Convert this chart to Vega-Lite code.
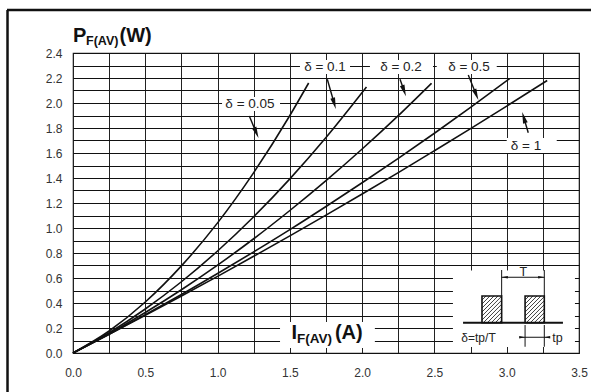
{
  "$schema": "https://vega.github.io/schema/vega-lite/v6.json",
  "width": 506,
  "height": 300,
  "autosize": "none",
  "padding": {"left": 73, "top": 53, "right": 12, "bottom": 39},
  "background": "white",
  "config": {
    "font": "Liberation Sans",
    "view": {"stroke": "#222", "strokeWidth": 1.2}
  },
  "datasets": {
    "curves": [
      {"d": "0.05", "x": 0, "y": 0}, {"d": "0.05", "x": 0.25, "y": 0.176}, {"d": "0.05", "x": 0.5, "y": 0.408}, {"d": "0.05", "x": 0.75, "y": 0.697}, {"d": "0.05", "x": 1.0, "y": 1.041}, {"d": "0.05", "x": 1.25, "y": 1.443}, {"d": "0.05", "x": 1.5, "y": 1.9}, {"d": "0.05", "x": 1.63, "y": 2.16},
      {"d": "0.1", "x": 0, "y": 0}, {"d": "0.1", "x": 0.25, "y": 0.162}, {"d": "0.1", "x": 0.5, "y": 0.352}, {"d": "0.1", "x": 0.75, "y": 0.57}, {"d": "0.1", "x": 1.0, "y": 0.816}, {"d": "0.1", "x": 1.25, "y": 1.09}, {"d": "0.1", "x": 1.5, "y": 1.393}, {"d": "0.1", "x": 1.75, "y": 1.724}, {"d": "0.1", "x": 2.03, "y": 2.128},
      {"d": "0.2", "x": 0, "y": 0}, {"d": "0.2", "x": 0.25, "y": 0.155}, {"d": "0.2", "x": 0.5, "y": 0.324}, {"d": "0.2", "x": 0.75, "y": 0.506}, {"d": "0.2", "x": 1.0, "y": 0.703}, {"d": "0.2", "x": 1.25, "y": 0.914}, {"d": "0.2", "x": 1.5, "y": 1.14}, {"d": "0.2", "x": 1.75, "y": 1.379}, {"d": "0.2", "x": 2.0, "y": 1.632}, {"d": "0.2", "x": 2.25, "y": 1.899}, {"d": "0.2", "x": 2.48, "y": 2.158},
      {"d": "0.5", "x": 0, "y": 0}, {"d": "0.5", "x": 0.25, "y": 0.15}, {"d": "0.5", "x": 0.5, "y": 0.307}, {"d": "0.5", "x": 0.75, "y": 0.468}, {"d": "0.5", "x": 1.0, "y": 0.636}, {"d": "0.5", "x": 1.25, "y": 0.809}, {"d": "0.5", "x": 1.5, "y": 0.987}, {"d": "0.5", "x": 1.75, "y": 1.172}, {"d": "0.5", "x": 2.0, "y": 1.362}, {"d": "0.5", "x": 2.25, "y": 1.557}, {"d": "0.5", "x": 2.5, "y": 1.758}, {"d": "0.5", "x": 2.75, "y": 1.965}, {"d": "0.5", "x": 3.02, "y": 2.195},
      {"d": "1", "x": 0, "y": 0}, {"d": "1", "x": 0.25, "y": 0.149}, {"d": "1", "x": 0.5, "y": 0.301}, {"d": "1", "x": 0.75, "y": 0.456}, {"d": "1", "x": 1.0, "y": 0.613}, {"d": "1", "x": 1.25, "y": 0.774}, {"d": "1", "x": 1.5, "y": 0.937}, {"d": "1", "x": 1.75, "y": 1.103}, {"d": "1", "x": 2.0, "y": 1.272}, {"d": "1", "x": 2.25, "y": 1.443}, {"d": "1", "x": 2.5, "y": 1.618}, {"d": "1", "x": 2.75, "y": 1.795}, {"d": "1", "x": 3.0, "y": 1.975}, {"d": "1", "x": 3.28, "y": 2.18}
    ],
    "boxes": [
      {"x": 1.031, "x2": 1.432, "y": 2.048, "y2": 1.936},
      {"x": 1.57, "x2": 1.916, "y": 2.344, "y2": 2.232},
      {"x": 2.054, "x2": 2.49, "y": 2.344, "y2": 2.232},
      {"x": 2.516, "x2": 2.931, "y": 2.344, "y2": 2.232},
      {"x": 3.0, "x2": 3.346, "y": 1.72, "y2": 1.6},
      {"x": 1.432, "x2": 2.088, "y": 0.248, "y2": 0.04},
      {"x": 2.628, "x2": 3.472, "y": 0.66, "y2": 0.048}
    ],
    "labels": [
      {"t": "δ = 0.05", "x": 1.224, "y": 1.99, "s": 13.5},
      {"t": "δ = 0.1", "x": 1.743, "y": 2.286, "s": 13.5},
      {"t": "δ = 0.2", "x": 2.269, "y": 2.286, "s": 13.5},
      {"t": "δ = 0.5", "x": 2.739, "y": 2.286, "s": 13.5},
      {"t": "δ = 1", "x": 3.133, "y": 1.656, "s": 13.5},
      {"t": "δ=tp/T", "x": 2.805, "y": 0.117, "s": 12},
      {"t": "T", "x": 3.115, "y": 0.652, "s": 12.5},
      {"t": "tp", "x": 3.351, "y": 0.117, "s": 12.5}
    ],
    "bold": [
      {"t": "P", "x": 0, "y": 2.49, "s": 20},
      {"t": "F(AV)", "x": 0.09, "y": 2.462, "s": 12.5},
      {"t": "(W)", "x": 0.322, "y": 2.49, "s": 20},
      {"t": "I", "x": 1.511, "y": 0.112, "s": 20},
      {"t": "F(AV)", "x": 1.549, "y": 0.082, "s": 13.5},
      {"t": "(A)", "x": 1.812, "y": 0.112, "s": 20}
    ],
    "rules": [
      {"x": 1.2195, "y": 1.896, "x2": 1.266, "y2": 1.766, "w": 1.4},
      {"x": 1.759, "y": 2.19, "x2": 1.806, "y2": 2.0, "w": 1.4},
      {"x": 2.262, "y": 2.19, "x2": 2.289, "y2": 2.102, "w": 1.4},
      {"x": 2.734, "y": 2.224, "x2": 2.788, "y2": 2.07, "w": 1.4},
      {"x": 3.149, "y": 1.762, "x2": 3.119, "y2": 1.88, "w": 1.4},
      {"x": 2.698, "y": 0.242, "x2": 3.389, "y2": 0.242, "w": 2},
      {"x": 2.965, "y": 0.664, "x2": 2.965, "y2": 0.456, "w": 1},
      {"x": 3.26, "y": 0.664, "x2": 3.26, "y2": 0.456, "w": 1},
      {"x": 2.965, "y": 0.606, "x2": 3.26, "y2": 0.606, "w": 1},
      {"x": 3.127, "y": 0.224, "x2": 3.127, "y2": 0.05, "w": 1},
      {"x": 3.26, "y": 0.224, "x2": 3.26, "y2": 0.05, "w": 1},
      {"x": 3.09, "y": 0.126, "x2": 3.3, "y2": 0.126, "w": 1},
      {"x": -0.4565, "y": 2.744, "x2": 3.75, "y2": 2.744, "w": 2.5},
      {"x": -0.453, "y": 2.744, "x2": -0.453, "y2": -0.4, "w": 2.5},
      {"x": 2.829, "y": 0.424, "x2": 2.857, "y2": 0.456, "w": 0.8},
      {"x": 2.829, "y": 0.392, "x2": 2.884, "y2": 0.456, "w": 0.8},
      {"x": 2.829, "y": 0.36, "x2": 2.912, "y2": 0.456, "w": 0.8},
      {"x": 2.829, "y": 0.328, "x2": 2.94, "y2": 0.456, "w": 0.8},
      {"x": 2.829, "y": 0.296, "x2": 2.965, "y2": 0.454, "w": 0.8},
      {"x": 2.829, "y": 0.264, "x2": 2.965, "y2": 0.422, "w": 0.8},
      {"x": 2.838, "y": 0.242, "x2": 2.965, "y2": 0.39, "w": 0.8},
      {"x": 2.866, "y": 0.242, "x2": 2.965, "y2": 0.358, "w": 0.8},
      {"x": 2.893, "y": 0.242, "x2": 2.965, "y2": 0.326, "w": 0.8},
      {"x": 2.921, "y": 0.242, "x2": 2.965, "y2": 0.294, "w": 0.8},
      {"x": 2.949, "y": 0.242, "x2": 2.965, "y2": 0.262, "w": 0.8},
      {"x": 3.127, "y": 0.424, "x2": 3.154, "y2": 0.456, "w": 0.8},
      {"x": 3.127, "y": 0.392, "x2": 3.181, "y2": 0.456, "w": 0.8},
      {"x": 3.127, "y": 0.36, "x2": 3.209, "y2": 0.456, "w": 0.8},
      {"x": 3.127, "y": 0.328, "x2": 3.237, "y2": 0.456, "w": 0.8},
      {"x": 3.127, "y": 0.296, "x2": 3.26, "y2": 0.451, "w": 0.8},
      {"x": 3.127, "y": 0.264, "x2": 3.26, "y2": 0.419, "w": 0.8},
      {"x": 3.135, "y": 0.242, "x2": 3.26, "y2": 0.387, "w": 0.8},
      {"x": 3.163, "y": 0.242, "x2": 3.26, "y2": 0.355, "w": 0.8},
      {"x": 3.19, "y": 0.242, "x2": 3.26, "y2": 0.323, "w": 0.8},
      {"x": 3.218, "y": 0.242, "x2": 3.26, "y2": 0.291, "w": 0.8},
      {"x": 3.246, "y": 0.242, "x2": 3.26, "y2": 0.258, "w": 0.8}
    ],
    "heads": [
      {"x": 1.268, "y": 1.762, "a": 157.5, "s": 130},
      {"x": 1.807, "y": 1.996, "a": 164.1, "s": 130},
      {"x": 2.29, "y": 2.098, "a": 160.7, "s": 130},
      {"x": 2.789, "y": 2.066, "a": 158, "s": 130},
      {"x": 3.118, "y": 1.884, "a": -16.4, "s": 130},
      {"x": 2.986, "y": 0.606, "a": -90, "s": 40},
      {"x": 3.239, "y": 0.606, "a": 90, "s": 40},
      {"x": 3.106, "y": 0.126, "a": 90, "s": 32},
      {"x": 3.281, "y": 0.126, "a": -90, "s": 32}
    ],
    "pulses": [
      {"x": 2.829, "x2": 2.965, "y": 0.456, "y2": 0.242},
      {"x": 3.127, "x2": 3.26, "y": 0.456, "y2": 0.242}
    ]
  },
  "encoding": {
    "x": {
      "field": "x", "type": "quantitative",
      "scale": {"domain": [0, 3.5], "nice": false, "zero": false},
      "axis": {
        "title": null,
        "values": [0, 0.25, 0.5, 0.75, 1, 1.25, 1.5, 1.75, 2, 2.25, 2.5, 2.75, 3, 3.25, 3.5],
        "labelExpr": "datum.value % 0.5 == 0 ? format(datum.value, '.1f') : ''",
        "grid": true, "gridColor": "#222", "gridWidth": 1,
        "ticks": false, "domain": false,
        "labelPadding": 14, "labelFontSize": 12, "labelColor": "#333",
        "labelFlush": false, "labelOverlap": false
      }
    },
    "y": {
      "field": "y", "type": "quantitative",
      "scale": {"domain": [0, 2.4], "nice": false, "zero": false},
      "axis": {
        "title": null,
        "values": [0, 0.1, 0.2, 0.3, 0.4, 0.5, 0.6, 0.7, 0.8, 0.9, 1.0, 1.1, 1.2, 1.3, 1.4, 1.5, 1.6, 1.7, 1.8, 1.9, 2.0, 2.1, 2.2, 2.3, 2.4],
        "labelExpr": "round(datum.value * 10) % 2 == 0 ? format(datum.value, '.1f') : ''",
        "grid": true, "gridColor": "#111", "gridWidth": 1,
        "ticks": false, "domain": false,
        "labelPadding": 11, "labelFontSize": 12, "labelColor": "#333",
        "labelFlush": false, "labelOverlap": false
      }
    }
  },
  "layer": [
    {
      "data": {"name": "boxes"},
      "mark": {"type": "rect", "fill": "white", "stroke": null},
      "encoding": {"x2": {"field": "x2"}, "y2": {"field": "y2"}}
    },
    {
      "data": {"name": "curves"},
      "mark": {"type": "line", "color": "#111", "strokeWidth": 1.6, "interpolate": "monotone"},
      "encoding": {"detail": {"field": "d", "type": "nominal"}}
    },
    {
      "data": {"name": "pulses"},
      "mark": {"type": "rect", "fill": "white", "stroke": "#111", "strokeWidth": 1.6},
      "encoding": {"x2": {"field": "x2"}, "y2": {"field": "y2"}}
    },
    {
      "data": {"name": "rules"},
      "mark": {"type": "rule", "color": "#111"},
      "encoding": {
        "x2": {"field": "x2"}, "y2": {"field": "y2"},
        "size": {"field": "w", "type": "quantitative", "scale": null}
      }
    },
    {
      "data": {"name": "heads"},
      "mark": {"type": "point", "shape": "M0,-1L0.42,1L-0.42,1Z", "filled": true, "color": "#111", "opacity": 1},
      "encoding": {
        "angle": {"field": "a", "type": "quantitative", "scale": null},
        "size": {"field": "s", "type": "quantitative", "scale": null}
      }
    },
    {
      "data": {"name": "labels"},
      "mark": {"type": "text", "align": "center", "baseline": "middle", "color": "#222", "font": "Liberation Sans"},
      "encoding": {
        "text": {"field": "t"},
        "size": {"field": "s", "type": "quantitative", "scale": null}
      }
    },
    {
      "data": {"name": "bold"},
      "mark": {"type": "text", "align": "left", "baseline": "alphabetic", "color": "#111", "fontWeight": "bold", "font": "Liberation Sans"},
      "encoding": {
        "text": {"field": "t"},
        "size": {"field": "s", "type": "quantitative", "scale": null}
      }
    }
  ]
}
